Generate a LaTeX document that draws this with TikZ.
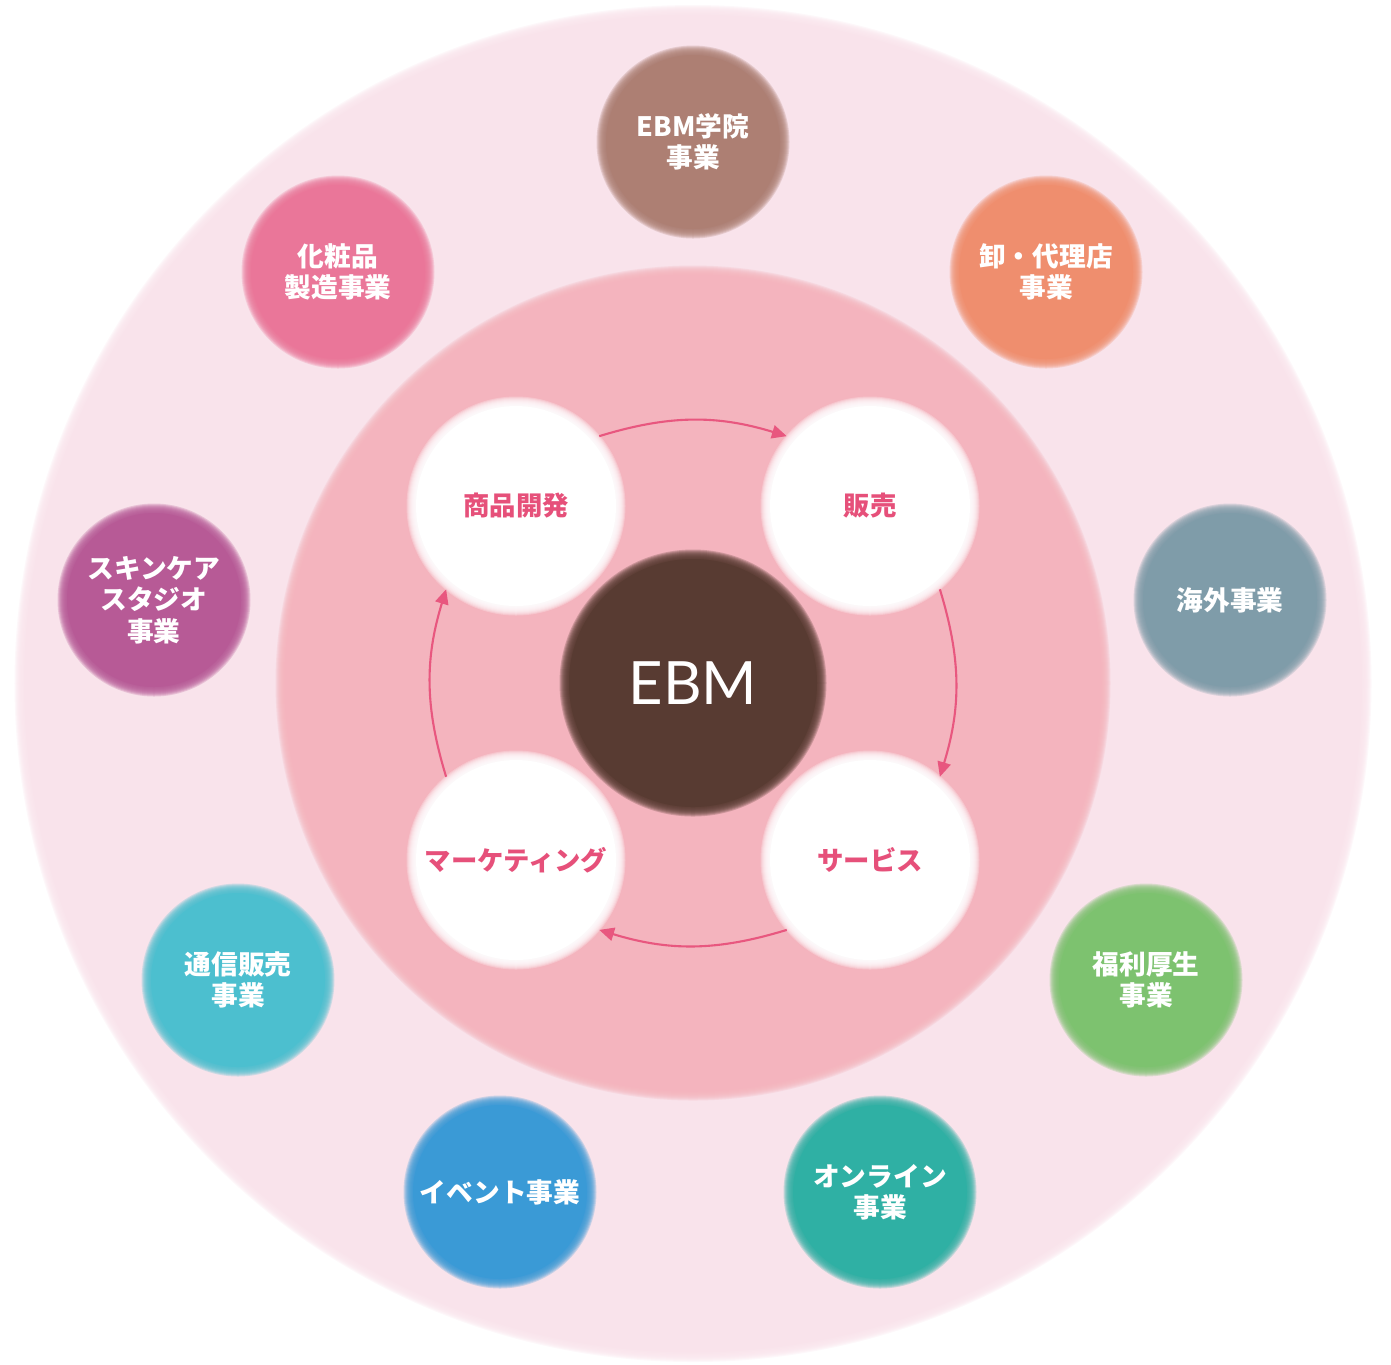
\documentclass[tikz,border=0pt]{standalone}
\usepackage{fontspec}
\newfontfamily\jpfont{Noto Sans CJK JP}
\newfontfamily\ebmfont{Lato}
\usepackage{xcolor}
\definecolor{outerpink}{HTML}{F9E3EB}
\definecolor{innerpink}{HTML}{F4B4BE}
\definecolor{corebrown}{HTML}{583B32}
\definecolor{cycpink}{HTML}{E6507A}
\definecolor{arrpink}{HTML}{E8577F}
\definecolor{gakuinbrown}{HTML}{AD7F73}
\definecolor{oroshiorange}{HTML}{EF8E6E}
\definecolor{kaigaigray}{HTML}{7F9CA9}
\definecolor{fukurigreen}{HTML}{7DC26F}
\definecolor{onlineteal}{HTML}{2FB0A4}
\definecolor{eventblue}{HTML}{3A9AD6}
\definecolor{tsushincyan}{HTML}{4CBFCF}
\definecolor{skinpurple}{HTML}{B75A96}
\definecolor{keshopink}{HTML}{EA7699}
\usetikzlibrary{arrows.meta}
\tikzset{
  bizdot/.style ={circle, inner sep=0pt, minimum size=1.9cm, align=center, text=white,
                  font=\jpfont\bfseries\fontsize{7.6}{8.9}\selectfont},
  cycdot/.style ={circle, inner sep=0pt, minimum size=2.16cm, align=center, text=cycpink,
                  font=\jpfont\bfseries\fontsize{7.5}{9}\selectfont},
  coredot/.style={circle, inner sep=0pt, minimum size=2.64cm, text=white,
                  font=\ebmfont\fontsize{17}{20}\selectfont},
  cycarr/.style ={-{Triangle[length=4.2pt, width=3.8pt]}, line width=0.6pt, color=arrpink},
}
% soft edged disc: centre, radius, colour
\newcommand{\softdisc}[3]{%
  \foreach \k in {1,...,10}{\fill[#3, opacity=0.25] (#1) circle ({#2+0.055-0.01*\k});}%
  \fill[#3] (#1) circle ({#2-0.05});}

\begin{document}
\begin{tikzpicture}
  \useasboundingbox (0,0) rectangle (13.91,-13.64);
  \softdisc{6.93,-6.835}{6.74}{outerpink}
  \softdisc{6.93,-6.83}{4.13}{innerpink}
  % business circles
  \foreach \nm/\px/\py/\col/\txt in {
      gakuin/6.93/-1.42/gakuinbrown/{EBM学院\\事業},
      oroshi/10.46/-2.72/oroshiorange/{卸・代理店\\事業},
      kaigai/12.30/-6.00/kaigaigray/{海外事業},
      fukuri/11.46/-9.80/fukurigreen/{福利厚生\\事業},
      online/8.80/-11.92/onlineteal/{オンライン\\事業},
      event/5.00/-11.92/eventblue/{イベント事業},
      tsushin/2.38/-9.80/tsushincyan/{通信販売\\事業},
      skin/1.54/-6.00/skinpurple/{スキンケア\\スタジオ\\事業},
      kesho/3.38/-2.72/keshopink/{化粧品\\製造事業}}{
    \softdisc{\px,\py}{0.92}{\col}
    \node[bizdot] (\nm) at (\px,\py) {\txt};
  }
  % cycle
  \softdisc{6.93,-6.83}{1.29}{corebrown}
  \node[coredot] (ebm) at (6.93,-6.83) {EBM};
  \foreach \nm/\px/\py/\txt in {shohin/5.16/-5.06/商品開発, hanbai/8.70/-5.06/販売,
      service/8.70/-8.60/サービス, marketing/5.16/-8.60/マーケティング}{
    \softdisc{\px,\py}{1.05}{white}
    \node[cycdot] (\nm) at (\px,\py) {\txt};
  }
  \draw[cycarr] (shohin.40) to[bend left=17] (hanbai.140);
  \draw[cycarr] (hanbai.-50) to[bend left=17] (service.50);
  \draw[cycarr] (service.-140) to[bend left=17] (marketing.-40);
  \draw[cycarr] (marketing.130) to[bend left=17] (shohin.-130);
\end{tikzpicture}
\end{document}
